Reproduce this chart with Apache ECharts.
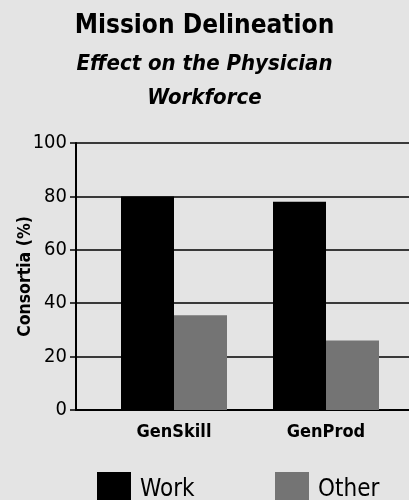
<!DOCTYPE html>
<html>
<head>
<meta charset="utf-8">
<script src="https://cdn.jsdelivr.net/npm/echarts@6/dist/echarts.min.js"></script>
<style>
	html, body { margin: 0; padding: 0; background: #e4e4e4; }
	#main { width: 409px; height: 500px; }
</style>
</head>
<body>
<div id="main"></div>
<script>
// 数据
const categories = ['GenSkill', 'GenProd'];
const workData = [80, 78];
const otherData = [35.5, 26];
const yTicks = [0, 20, 40, 60, 80, 100];

const font = '"Liberation Sans Narrow", "DejaVu Sans Condensed", sans-serif';

const chart = echarts.init(document.getElementById('main'));

chart.setOption({
	backgroundColor: '#e4e4e4',
	animation: false,
	title: {
		text: 'Mission Delineation',
		subtext: 'Effect on the Physician\nWorkforce',
		left: 'center',
		top: 8,
		itemGap: 8,
		textStyle: {
			fontFamily: font,
			fontWeight: 'bold',
			fontSize: 26,
			color: '#000'
		},
		subtextStyle: {
			fontFamily: font,
			fontWeight: 'bold',
			fontStyle: 'italic',
			fontSize: 22,
			lineHeight: 34,
			color: '#000'
		}
	},
	// 两个图例，分开放
	legend: [
		{
			data: ['Work'],
			icon: 'rect',
			left: 92,
			top: 467,
			itemWidth: 34,
			itemHeight: 36,
			itemGap: 0,
			textStyle: { fontFamily: font, fontSize: 24, color: '#000', padding: [0, 0, 0, 4] }
		},
		{
			data: ['Other'],
			icon: 'rect',
			left: 270,
			top: 467,
			itemWidth: 34,
			itemHeight: 36,
			itemGap: 0,
			textStyle: { fontFamily: font, fontSize: 24, color: '#000', padding: [0, 0, 0, 4] }
		}
	],
	// grid 0 画坐标轴和网格线, grid 1 放柱子
	grid: [
		{ left: 76, right: -20, top: 143, bottom: 90 },
		{ left: 98, right: 7, top: 143, bottom: 90 }
	],
	xAxis: [
		{
			type: 'category',
			gridIndex: 0,
			data: [''],
			axisLine: { lineStyle: { color: '#000', width: 2 } },
			axisTick: { show: false },
			axisLabel: { show: false }
		},
		{
			type: 'category',
			gridIndex: 1,
			data: categories,
			axisLine: { show: false },
			axisTick: { show: false },
			axisLabel: {
				margin: 13,
				fontFamily: font,
				fontWeight: 'bold',
				fontSize: 18,
				color: '#000'
			}
		}
	],
	yAxis: [
		{
			type: 'value',
			gridIndex: 0,
			min: yTicks[0],
			max: yTicks[yTicks.length - 1],
			interval: 20,
			name: 'Consortia (%)',
			nameLocation: 'middle',
			nameGap: 42,
			nameMoveOverlap: false,
			nameTextStyle: {
				fontFamily: font,
				fontWeight: 'bold',
				fontSize: 17.5,
				color: '#000'
			},
			axisLine: { show: true, lineStyle: { color: '#000', width: 2 } },
			axisTick: { show: true, length: 6, lineStyle: { color: '#000', width: 1.5 } },
			axisLabel: {
				margin: 9,
				fontFamily: font,
				fontSize: 20,
				color: '#000'
			},
			splitLine: { show: true, lineStyle: { color: '#000', width: 1.5 } }
		},
		{
			type: 'value',
			gridIndex: 1,
			min: yTicks[0],
			max: yTicks[yTicks.length - 1],
			show: false
		}
	],
	series: [
		{
			name: 'Work',
			type: 'bar',
			xAxisIndex: 1,
			yAxisIndex: 1,
			data: workData,
			barWidth: 53,
			barGap: '0%',
			itemStyle: { color: '#000' }
		},
		{
			name: 'Other',
			type: 'bar',
			xAxisIndex: 1,
			yAxisIndex: 1,
			data: otherData,
			barWidth: 53,
			itemStyle: { color: '#747474' }
		}
	]
});
</script>
</body>
</html>
